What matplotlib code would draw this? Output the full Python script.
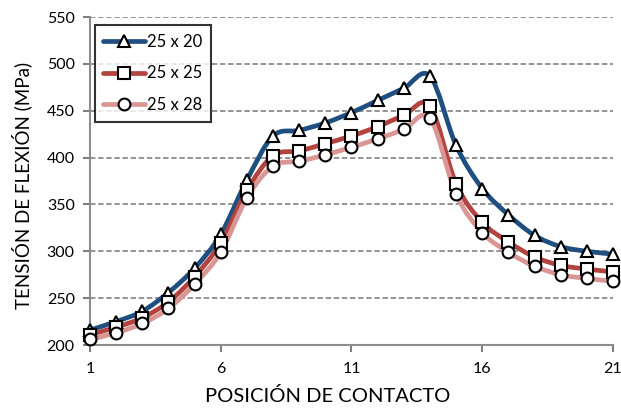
import numpy as np
import matplotlib
matplotlib.use("Agg")
import matplotlib.pyplot as plt
from matplotlib.path import Path
from matplotlib.patches import PathPatch
from matplotlib.lines import Line2D

plt.rcParams['font.family'] = ['Lato', 'DejaVu Sans']

positions = list(range(1, 22))
labels = ["25 x 20", "25 x 25", "25 x 28"]
s_25x20 = [216, 225, 236, 256, 282, 318, 376, 423, 429, 437, 448, 461, 474, 487,
           413, 367, 339, 317, 305, 300, 297]
s_25x25 = [211, 219, 229, 246, 273, 309, 365, 402, 407, 415, 423, 433, 445, 455,
           372, 331, 310, 294, 285, 281, 278]
s_25x28 = [206, 213, 223, 239, 265, 299, 357, 391, 396, 403, 411, 420, 430, 442,
           361, 320, 299, 284, 275, 271, 268]
x_ticks = [1, 6, 11, 16, 21]
y_ticks = [200, 250, 300, 350, 400, 450, 500, 550]

colors = ["#1F4E80", "#B3433F", "#D99694"]
markers = ["^", "s", "o"]


def smooth_path(x, y):
    """Catmull-Rom style cubic Bezier path through the points."""
    pts = np.column_stack([x, y]).astype(float)
    n = len(pts)
    verts = [pts[0]]
    codes = [Path.MOVETO]
    for i in range(n - 1):
        p0 = pts[i - 1] if i > 0 else pts[i]
        p1 = pts[i]
        p2 = pts[i + 1]
        p3 = pts[i + 2] if i + 2 < n else pts[i + 1]
        c1 = p1 + (p2 - p0) / 6.0
        c2 = p2 - (p3 - p1) / 6.0
        verts += [c1, c2, p2]
        codes += [Path.CURVE4] * 3
    return Path(verts, codes)


fig = plt.figure(figsize=(6.21, 4.08), dpi=100)
ax = fig.add_axes([0.1449, 0.1544, 0.8422, 0.8039])

series = [s_25x20, s_25x25, s_25x28]
handles = []
for vals, col, mk, lab in zip(series, colors, markers, labels):
    patch = PathPatch(smooth_path(positions, vals), facecolor="none",
                      edgecolor=col, lw=3.4, capstyle="round",
                      joinstyle="round", zorder=3)
    ax.add_patch(patch)
    ax.plot(positions, vals, linestyle="none", marker=mk, markersize=8.5,
            markerfacecolor="white", markeredgecolor="black",
            markeredgewidth=1.5, zorder=4, clip_on=False)
    handles.append(Line2D([], [], color=col, lw=3.4, marker=mk, markersize=8.5,
                          markerfacecolor="white", markeredgecolor="black",
                          markeredgewidth=1.5, label=lab,
                          solid_capstyle="round"))

ax.set_xlim(1, 21)
ax.set_ylim(200, 550)
ax.set_xticks(x_ticks)
ax.set_yticks(y_ticks)
ax.tick_params(axis="both", labelsize=11.5, colors="#808080",
               labelcolor="black", length=5, width=1.5, direction="out")
ax.tick_params(axis="x", pad=7)
ax.tick_params(axis="y", pad=6)

ax.grid(axis="y", color="#8C8C8C", linestyle=(0, (3, 1.5)), linewidth=1.3)
ax.set_axisbelow(True)
for side in ["top", "right"]:
    ax.spines[side].set_visible(False)
for side in ["left", "bottom"]:
    ax.spines[side].set_color("#8C8C8C")
    ax.spines[side].set_linewidth(1.5)

ax.set_xlabel("POSICIÓN DE CONTACTO", fontsize=14.5)
ax.xaxis.set_label_coords(0.455, -0.127, transform=ax.transAxes)
ax.xaxis.label.set_va("top")
ax.set_ylabel("TENSIÓN DE FLEXIÓN (MPa)", fontsize=13.5)
ax.yaxis.set_label_coords(-0.111, 0.485, transform=ax.transAxes)

leg = ax.legend(handles=handles, loc="upper left", bbox_to_anchor=(0.0, 0.99),
                fontsize=12, frameon=True, fancybox=False, handlelength=2.5,
                handletextpad=0.15, borderpad=0.5, labelspacing=0.95,
                borderaxespad=0.3)
leg.get_frame().set_edgecolor("black")
leg.get_frame().set_linewidth(1.5)

fig.savefig("out.png", dpi=100)
